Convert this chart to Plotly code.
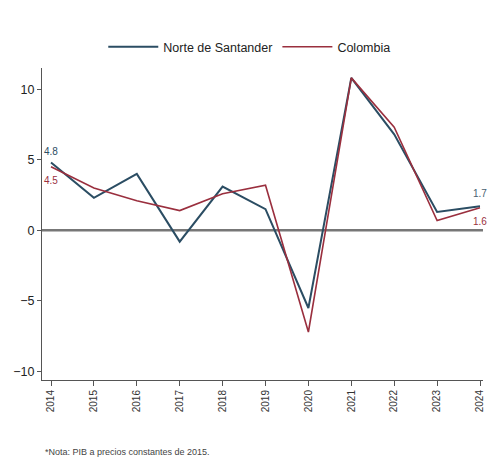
import plotly.graph_objects as go

years = [2014, 2015, 2016, 2017, 2018, 2019, 2020, 2021, 2022, 2023, 2024]
norte = [4.8, 2.3, 4.0, -0.8, 3.1, 1.5, -5.5, 10.8, 6.8, 1.3, 1.7]
colombia = [4.5, 3.0, 2.1, 1.4, 2.6, 3.2, -7.2, 10.8, 7.3, 0.7, 1.6]
y_ticks = [-10, -5, 0, 5, 10]
note = "*Nota: PIB a precios constantes de 2015."

c_norte = "#2b4d63"
c_col = "#9a2f3e"
font = "Liberation Sans Narrow, Arial Narrow, Liberation Sans, Arial"

fig = go.Figure()
fig.add_trace(go.Scatter(x=years, y=norte, mode="lines", name="Norte de Santander",
                         line=dict(color=c_norte, width=2)))
fig.add_trace(go.Scatter(x=years, y=colombia, mode="lines", name="Colombia",
                         line=dict(color=c_col, width=1.6)))

fig.add_hline(y=0, line=dict(color="#777777", width=2.5), layer="below")

# end labels
for yr, val, col, ys in [(years[0], norte[0], c_norte, 11), (years[0], colombia[0], c_col, -14),
                         (years[-1], norte[-1], "#4a5f70", 13), (years[-1], colombia[-1], c_col, -14)]:
    fig.add_annotation(x=yr, y=val, text=f"{val:.1f}", showarrow=False,
                       font=dict(size=10, color=col, family=font),
                       xanchor="center", yshift=ys, xshift=0)

fig.add_annotation(x=0.0, y=-0.231, xref="paper", yref="paper", text=note, showarrow=False,
                   xanchor="left", yanchor="middle", xshift=1,
                   font=dict(size=9, color="#444444", family=font))

fig.update_layout(
    width=494, height=476,
    margin=dict(l=42, r=11, t=68, b=96, autoexpand=False),
    paper_bgcolor="white", plot_bgcolor="white",
    font=dict(family=font, size=12, color="#222222"),
    legend=dict(orientation="h", x=0.47, xanchor="center", y=1.067, yanchor="middle",
                font=dict(size=12.5, color="#222222"), itemwidth=50, tracegroupgap=0),
    xaxis=dict(range=[2013.79, 2024.07], tickmode="array", tickvals=years,
               ticktext=[str(y) for y in years], tickangle=-90, showgrid=False,
               showline=True, linecolor="#555555", linewidth=1, ticks="outside",
               ticklen=5, tickcolor="#555555", tickfont=dict(size=10, color="#333333"),
               zeroline=False, automargin=False),
    yaxis=dict(range=[-10.6, 11.5], tickmode="array", tickvals=y_ticks, showgrid=False,
               showline=True, linecolor="#555555", linewidth=1, ticks="outside",
               ticklen=4, tickcolor="#555555", tickfont=dict(size=12.5, color="#222222"),
               zeroline=False, automargin=False),
)

fig.write_html("out.html", config={"displayModeBar": False},
               post_script="document.body.style.margin='0';")
